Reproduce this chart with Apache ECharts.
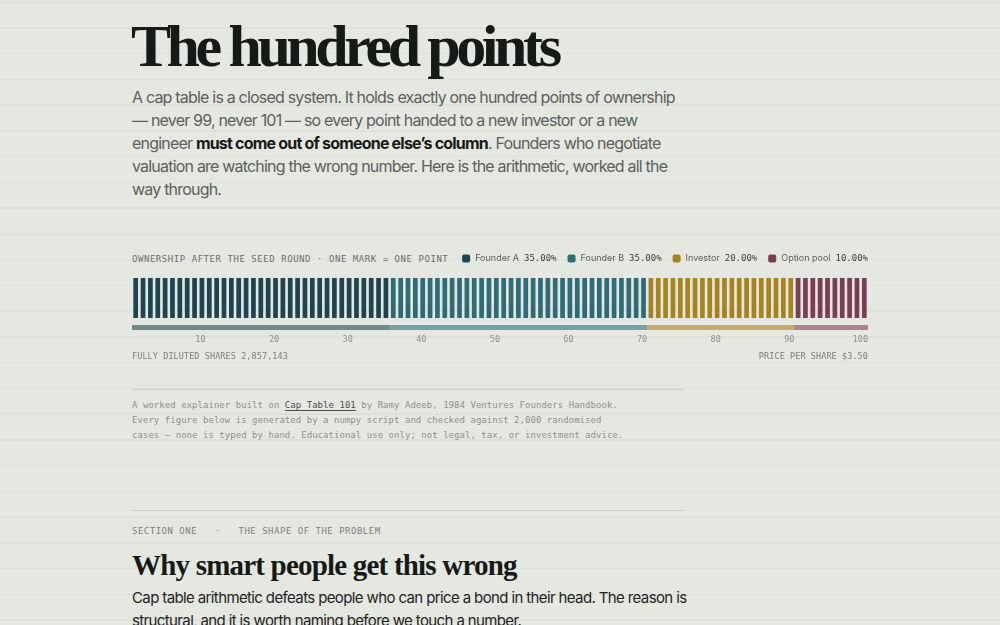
<!DOCTYPE html>
<html><head><meta charset="utf-8">
<script src="https://cdn.jsdelivr.net/npm/echarts@6/dist/echarts.min.js"></script>
<style>
html,body{margin:0;padding:0;width:1000px;height:625px;overflow:hidden;}
body{position:relative;background-color:#e5e8e1;
 background-image:repeating-linear-gradient(180deg,transparent 0px,transparent 1.4px,rgba(120,125,115,0.065) 1.4px,rgba(120,125,115,0.065) 2.8px,transparent 2.8px,transparent 25.75px);
 font-family:Inter,"Noto Sans",sans-serif;}
.abs{position:absolute;white-space:nowrap;}
#title{left:131px;top:16px;font-family:"Liberation Serif",serif;font-weight:700;font-size:60px;line-height:60px;letter-spacing:-4.4px;color:#161a17;}
#lede{left:132px;top:86px;font-size:16px;line-height:23.1px;color:#5b605b;letter-spacing:-0.8px;}
#lede b{color:#161a17;font-weight:700;}
.mono{font-family:"DejaVu Sans Mono",monospace;}
#caption{left:132px;top:253px;font-size:9px;line-height:12px;letter-spacing:0.55px;color:#6a6e69;}
#fds{left:132px;top:350px;font-size:8.5px;line-height:12px;letter-spacing:0.08px;color:#7b7f79;}
#pps{right:132px;top:350px;font-size:8.5px;line-height:12px;letter-spacing:0.08px;color:#7b7f79;}
.rule{position:absolute;left:132px;width:552px;height:1.5px;background:#cdd0c9;}
#notes{left:132px;top:398px;font-size:9px;line-height:15px;color:#8c908a;letter-spacing:0.04px;}
#notes u{color:#4c504b;text-underline-offset:2px;}
#section{left:132px;top:525px;font-size:9px;line-height:12px;letter-spacing:0.5px;color:#7c807a;}
#h2{left:132px;top:551px;font-family:"Liberation Serif",serif;font-weight:700;font-size:29px;line-height:29px;letter-spacing:-0.8px;color:#161a17;}
#body2{left:132px;top:586px;font-size:15px;line-height:23.1px;color:#1f231f;letter-spacing:-0.62px;}
#chart{position:absolute;left:0;top:245px;width:1000px;height:130px;}
</style></head>
<body>
<div id="title" class="abs">The hundred points</div>
<div id="lede" class="abs">A cap table is a closed system. It holds exactly one hundred points of ownership<br>— never 99, never 101 — so every point handed to a new investor or a new<br>engineer <b>must come out of someone else’s column</b>. Founders who negotiate<br>valuation are watching the wrong number. Here is the arithmetic, worked all the<br>way through.</div>
<div id="caption" class="abs mono">OWNERSHIP AFTER THE SEED ROUND · ONE MARK = ONE POINT</div>
<div id="chart"></div>
<div id="fds" class="abs mono"></div>
<div id="pps" class="abs mono"></div>
<div class="rule" style="top:388.5px"></div>
<div id="notes" class="abs mono">A worked explainer built on <u>Cap Table 101</u> by Ramy Adeeb, 1984 Ventures Founders Handbook.<br>Every figure below is generated by a numpy script and checked against 2,000 randomised<br>cases — none is typed by hand. Educational use only; not legal, tax, or investment advice.</div>
<div class="rule" style="top:509.5px"></div>
<div id="section" class="abs mono">SECTION ONE&nbsp;&nbsp;&nbsp;·&nbsp;&nbsp;&nbsp;THE SHAPE OF THE PROBLEM</div>
<div id="h2" class="abs">Why smart people get this wrong</div>
<div id="body2" class="abs">Cap table arithmetic defeats people who can price a bond in their head. The reason is<br>structural, and it is worth naming before we touch a number.</div>
<script>
// ---- data ----
const owners = ['Founder A', 'Founder B', 'Investor', 'Option pool'];
const points = [35, 35, 20, 10];
const pctLabels = ['35.00%', '35.00%', '20.00%', '10.00%'];
const ownerColors = ['#1d4450', '#2e6d77', '#a7831f', '#7a3c56'];
const tickLabels = [10, 20, 30, 40, 50, 60, 70, 80, 90, 100];
const fullyDilutedShares = '2,857,143';
const pricePerShare = '$3.50';

document.getElementById('fds').textContent = 'FULLY DILUTED SHARES ' + fullyDilutedShares;
document.getElementById('pps').textContent = 'PRICE PER SHARE ' + pricePerShare;

const total = points.reduce((a, b) => a + b, 0);
const marks = [];
for (let i = 1; i <= total; i++) marks.push(String(i));

const series = [];
let start = 0;
owners.forEach((name, i) => {
  const s0 = start, s1 = start + points[i];
  series.push({
    name: name, type: 'bar', stack: 'marks', xAxisIndex: 0, yAxisIndex: 0,
    barCategoryGap: '36%', silent: true,
    itemStyle: { color: ownerColors[i] },
    data: marks.map((m, k) => (k >= s0 && k < s1) ? 1 : '-')
  });
  start = s1;
});
owners.forEach((name, i) => {
  series.push({
    name: name + ' strip', type: 'bar', stack: 'strip', xAxisIndex: 1, yAxisIndex: 1,
    barWidth: 5, silent: true,
    itemStyle: { color: ownerColors[i], opacity: 0.58 },
    data: [points[i]]
  });
});

const chart = echarts.init(document.getElementById('chart'), null, { renderer: 'canvas' });
chart.setOption({
  animation: false,
  backgroundColor: 'transparent',
  color: ownerColors,
  legend: {
    data: owners, right: 127, top: 4, itemWidth: 8, itemHeight: 8, itemGap: 11,
    icon: 'roundRect', selectedMode: false,
    formatter: function (name) {
      return '{n|' + name + '}{v|' + pctLabels[owners.indexOf(name)] + '}';
    },
    textStyle: {
      rich: {
        n: { fontFamily: 'Inter', fontSize: 9, color: '#5d615c' },
        v: { fontFamily: 'DejaVu Sans Mono', fontSize: 9, color: '#3a3e3a', padding: [0, 0, 0, 5] }
      }
    }
  },
  grid: [
    { left: 132, width: 736, top: 33, height: 40 },
    { left: 132, width: 736, top: 80, height: 5 }
  ],
  xAxis: [
    { type: 'category', gridIndex: 0, data: marks, show: false },
    { type: 'value', gridIndex: 1, min: 0, max: total, interval: 10,
      axisLine: { show: false }, axisTick: { show: false }, splitLine: { show: false },
      axisLabel: {
        show: true, margin: 5, align: 'right',
        fontFamily: 'DejaVu Sans Mono', fontSize: 8.5, color: '#8c908a',
        formatter: function (v) { return tickLabels.indexOf(v) >= 0 ? String(v) : ''; }
      }
    }
  ],
  yAxis: [
    { type: 'value', gridIndex: 0, min: 0, max: 1, show: false },
    { type: 'category', gridIndex: 1, data: ['points'], show: false }
  ],
  series: series
});
</script>
</body></html>
